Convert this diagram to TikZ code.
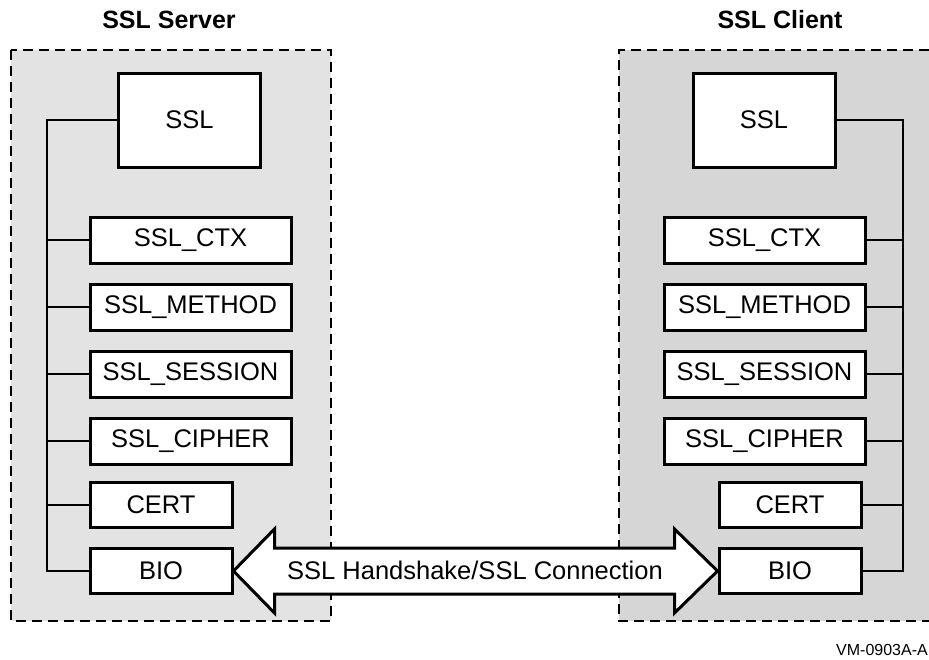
\documentclass[tikz,border=0pt]{standalone}
\usepackage{fontspec}
\setmainfont{Liberation Sans}
\usetikzlibrary{calc}
\begin{document}
\begin{tikzpicture}[x=1pt,y=-1pt,
  panel/.style={dash pattern=on 10pt off 6pt, line width=2.8pt},
  objbox/.style={draw, line width=3pt, fill=white, inner sep=0pt,
    font=\fontsize{25.5}{30}\selectfont},
  wide/.style={objbox, minimum width=201pt, minimum height=46pt},
  narrow/.style={objbox, minimum width=142pt, minimum height=45pt},
  big/.style={objbox, minimum width=142pt, minimum height=94pt},
  link/.style={line width=1.3pt},
  title/.style={font=\fontsize{25}{30}\selectfont\bfseries},
  bigarrow/.style={draw, line width=3pt, fill=white, line join=miter}]
\useasboundingbox (0,0) rectangle (929,659);
% panels
\fill[gray!22] (11,50) rectangle (331,621);
\draw[panel] (11,50) rectangle (331,621);
\fill[gray!32] (619,50) rectangle (945,621);
\draw[panel] (945,50) -- (619,50) -- (619,621) -- (945,621);
% titles
\node[title] (tserver) at (169,20) {SSL Server};
\node[title] (tclient) at (780,20) {SSL Client};
% trunk coordinates
\coordinate (ltop) at (47,120);
\coordinate (lbot) at (47,571);
\coordinate (rtop) at (903,120);
\coordinate (rbot) at (903,571);
% left boxes
\node[big] (lssl) at (189.5,120) {SSL};
\node[wide] (lctx) at (190.5,240) {SSL\_CTX};
\node[wide] (lmeth) at (190.5,307) {SSL\_METHOD};
\node[wide] (lsess) at (190.5,374) {SSL\_SESSION};
\node[wide] (lciph) at (190.5,441) {SSL\_CIPHER};
\node[narrow] (lcert) at (161,505) {CERT};
\node[narrow] (lbio) at (161,571) {BIO};
% right boxes
\node[big] (rssl) at (764,120) {SSL};
\node[wide] (rctx) at (764.5,240) {SSL\_CTX};
\node[wide] (rmeth) at (764.5,307) {SSL\_METHOD};
\node[wide] (rsess) at (764.5,374) {SSL\_SESSION};
\node[wide] (rciph) at (764.5,441) {SSL\_CIPHER};
\node[narrow] (rcert) at (790,505) {CERT};
\node[narrow] (rbio) at (790,571) {BIO};
% links
\draw[link] (lssl.west) -- (ltop) -- (lbot) -- (lbio.west);
\foreach \n in {lctx,lmeth,lsess,lciph,lcert}
  \draw[link] (\n.west) -- (\n.west -| ltop);
\draw[link] (rssl.east) -- (rtop) -- (rbot) -- (rbio.east);
\foreach \n in {rctx,rmeth,rsess,rciph,rcert}
  \draw[link] (\n.east) -- (\n.east -| rtop);
% big double arrow
\draw[bigarrow] (lbio.east) -- ++(41,-42) -- ++(0,19) -- ($(rbio.west)+(-43,-23)$)
  -- ++(0,-19) -- (rbio.west) -- ++(-43,42) -- ++(0,-19)
  -- ($(lbio.east)+(41,23)$) -- ++(0,19) -- cycle;
\node[font=\fontsize{25.5}{30}\selectfont] (conn) at (475,570) {SSL Handshake/SSL Connection};
\node[font=\fontsize{16}{19}\selectfont, anchor=east, inner sep=0pt] (code) at (928,650) {VM-0903A-A};
\end{tikzpicture}
\end{document}
